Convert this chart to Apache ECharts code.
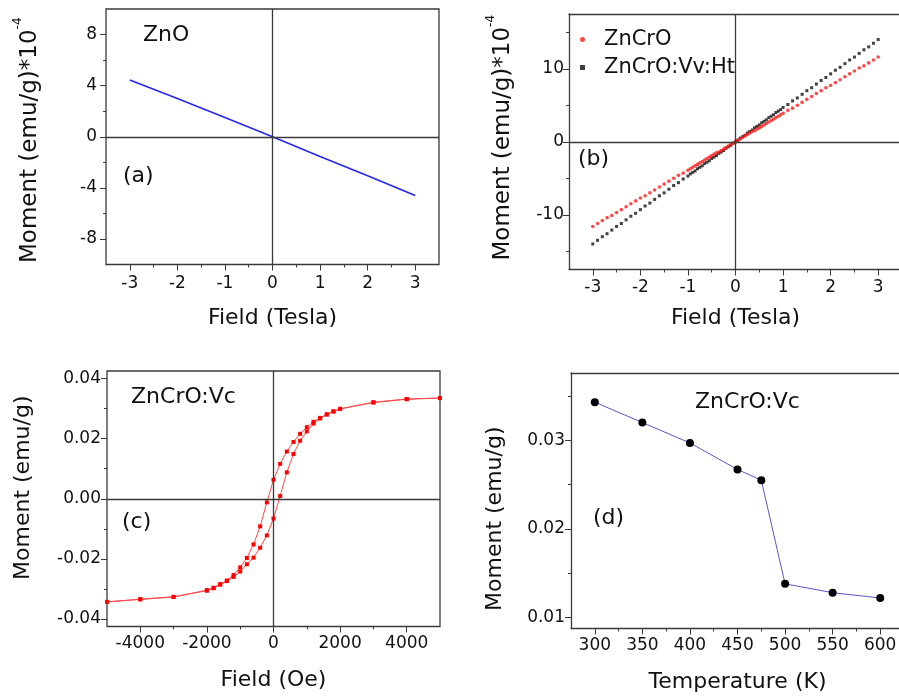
<!DOCTYPE html>
<html>
<head>
<meta charset="utf-8">
<title>ZnO / ZnCrO magnetization</title>
<script src="https://cdn.jsdelivr.net/npm/echarts@6/dist/echarts.min.js"></script>
<style>
    html, body { margin: 0; padding: 0; background: #fff; }
    #chart { width: 899px; height: 697px; }
</style>
</head>
<body>
<div id="chart"></div>
<script>
    // (a) ZnO: moment (1e-4 emu/g) vs field (T)
    var fieldA = [-3, -2, -1, 0, 1, 2, 3];
    var momentZnO = [4.45, 3.0, 1.5, 0, -1.55, -3.05, -4.6];

    // (b) ZnCrO and ZnCrO:Vv:Ht, measured points (1e-4 emu/g)
    var fieldB = [
        -3.0, -2.9, -2.8, -2.7, -2.6, -2.5, -2.4, -2.3, -2.2, -2.1,
        -2.0, -1.9, -1.8, -1.7, -1.6, -1.5, -1.4, -1.3, -1.2, -1.1,
        -1.00, -0.95, -0.90, -0.85, -0.80, -0.75, -0.70, -0.65, -0.60, -0.55,
        -0.50, -0.45, -0.40, -0.35, -0.30, -0.25, -0.20, -0.15, -0.10, -0.05,
        0.00, 0.05, 0.10, 0.15, 0.20, 0.25, 0.30, 0.35, 0.40, 0.45,
        0.50, 0.55, 0.60, 0.65, 0.70, 0.75, 0.80, 0.85, 0.90, 0.95,
        1.0, 1.1, 1.2, 1.3, 1.4, 1.5, 1.6, 1.7, 1.8, 1.9,
        2.0, 2.1, 2.2, 2.3, 2.4, 2.5, 2.6, 2.7, 2.8, 2.9, 3.0
    ];
    var momentZnCrO = [
        -11.6, -11.2, -10.8, -10.4, -10.1, -9.7, -9.3, -8.9, -8.5, -8.1,
        -7.7, -7.4, -7.0, -6.6, -6.2, -5.8, -5.4, -5.0, -4.6, -4.3,
        -3.9, -3.7, -3.5, -3.3, -3.1, -2.9, -2.7, -2.5, -2.3, -2.1,
        -1.9, -1.7, -1.5, -1.4, -1.2, -1.0, -0.8, -0.6, -0.4, -0.2,
        0.0, 0.2, 0.4, 0.6, 0.8, 1.0, 1.2, 1.4, 1.5, 1.7,
        1.9, 2.1, 2.3, 2.5, 2.7, 2.9, 3.1, 3.3, 3.5, 3.7,
        3.9, 4.3, 4.6, 5.0, 5.4, 5.8, 6.2, 6.6, 7.0, 7.4,
        7.7, 8.1, 8.5, 8.9, 9.3, 9.7, 10.1, 10.4, 10.8, 11.2, 11.6
    ];
    var momentVvHt = [
        -14.0, -13.5, -13.0, -12.6, -12.1, -11.6, -11.2, -10.7, -10.2, -9.8,
        -9.3, -8.8, -8.4, -7.9, -7.4, -7.0, -6.5, -6.0, -5.6, -5.1,
        -4.7, -4.4, -4.2, -4.0, -3.7, -3.5, -3.3, -3.0, -2.8, -2.6,
        -2.3, -2.1, -1.9, -1.6, -1.4, -1.2, -0.9, -0.7, -0.5, -0.2,
        0.0, 0.2, 0.5, 0.7, 0.9, 1.2, 1.4, 1.6, 1.9, 2.1,
        2.3, 2.6, 2.8, 3.0, 3.3, 3.5, 3.7, 4.0, 4.2, 4.4,
        4.7, 5.1, 5.6, 6.0, 6.5, 7.0, 7.4, 7.9, 8.4, 8.8,
        9.3, 9.8, 10.2, 10.7, 11.2, 11.6, 12.1, 12.6, 13.0, 13.5, 14.0
    ];

    // (c) ZnCrO:Vc hysteresis loop, field down from +5000 Oe then back up
    var fieldC = [
        5000, 4000, 3000, 2000, 1800, 1600, 1400, 1200, 1000, 800, 600, 400, 200, 0,
        -200, -400, -600, -800, -1000, -1200, -1400, -1600, -1800, -2000, -3000, -4000, -5000,
        -4000, -3000, -2000, -1800, -1600, -1400, -1200, -1000, -800, -600, -400, -200, 0,
        200, 400, 600, 800, 1000, 1200, 1400, 1600, 1800, 2000, 3000, 4000, 5000
    ];
    var momentC = [
        0.0335, 0.0332, 0.0321, 0.0299, 0.0291, 0.0281, 0.0269, 0.0256, 0.0238, 0.0216, 0.0189, 0.0157, 0.0116, 0.0063,
        -0.0012, -0.0092, -0.0152, -0.0197, -0.0228, -0.0254, -0.0272, -0.0284, -0.0296, -0.0304, -0.0327, -0.0335, -0.0343,
        -0.0334, -0.0326, -0.0306, -0.0298, -0.0286, -0.0274, -0.0260, -0.0242, -0.0218, -0.0196, -0.0163, -0.0122, -0.0066,
        0.0009, 0.0088, 0.0149, 0.0193, 0.0224, 0.0250, 0.0267, 0.0280, 0.0290, 0.0299, 0.0320, 0.0331, 0.0335
    ];

    // (d) ZnCrO:Vc moment vs temperature
    var tempD = [300, 350, 400, 450, 475, 500, 550, 600];
    var momentD = [0.0343, 0.0320, 0.0297, 0.0267, 0.0255, 0.0138, 0.0128, 0.0122];

    // tick positions
    var ticksFieldT = [-3, -2, -1, 0, 1, 2, 3];
    var minorFieldT = [-2.5, -1.5, -0.5, 0.5, 1.5, 2.5];
    var ticksA = [-8, -4, 0, 4, 8];
    var minorA = [-6, -2, 2, 6];
    var ticksB = [-10, 0, 10];
    var minorB = [-15, -5, 5, 15];
    var ticksFieldOe = [-4000, -2000, 0, 2000, 4000];
    var minorFieldOe = [-3000, -1000, 1000, 3000];
    var ticksC = [-0.04, -0.02, 0, 0.02, 0.04];
    var minorC = [-0.03, -0.01, 0.01, 0.03];
    var ticksTemp = [300, 350, 400, 450, 500, 550, 600];
    var minorTemp = [325, 375, 425, 475, 525, 575];
    var ticksD = [0.01, 0.02, 0.03];
    var minorD = [0.015, 0.025, 0.035];

    var FONT = 'DejaVu Sans';
    var INK = '#111';
    var FRAME = '#3a3a3a';
    var frameLine = {show: true, onZero: false, lineStyle: {color: FRAME, width: 1.3}};

    function zip(xs, ys) {
        return xs.map(function (x, i) { return [x, ys[i]]; });
    }

    // main axis (labels + long ticks) and an overlaid one for the short ticks
    function axisPair(dim, gridIndex, min, max, majors, minors, o) {
        var main = {
            type: 'value', gridIndex: gridIndex, min: min, max: max,
            position: dim === 'x' ? 'bottom' : 'left',
            axisLine: o.line ? frameLine : {show: false, onZero: false},
            splitLine: {show: false},
            axisTick: {show: true, length: 6, customValues: majors, lineStyle: {color: FRAME, width: 1}},
            axisLabel: {
                customValues: majors, margin: o.margin, color: INK,
                fontFamily: FONT, fontSize: 17, formatter: o.formatter || function (v) { return String(v); }
            },
            name: o.name, nameLocation: 'middle', nameGap: o.nameGap,
            nameRotate: dim === 'y' ? 90 : 0,
            nameTextStyle: o.nameStyle
        };
        var minor = {
            type: 'value', gridIndex: gridIndex, min: min, max: max,
            position: dim === 'x' ? 'bottom' : 'left',
            axisLine: {show: false, onZero: false},
            splitLine: {show: false},
            axisLabel: {show: false},
            axisTick: {show: true, length: 3, customValues: minors, lineStyle: {color: FRAME, width: 1}}
        };
        return [main, minor];
    }

    // top edge of a panel whose right side is cut off by the picture
    function topEdge(gridIndex, min, max) {
        return {
            type: 'value', gridIndex: gridIndex, min: min, max: max, position: 'top',
            axisLine: frameLine, axisTick: {show: false}, axisLabel: {show: false}, splitLine: {show: false}
        };
    }

    var titleStyle = {fontFamily: FONT, fontSize: 22, color: INK};
    var supTitle = function (pad) {
        return {
            fontFamily: FONT, color: INK, padding: pad,
            rich: {
                m: {fontFamily: FONT, fontSize: 23, color: INK, lineHeight: 36},
                s: {fontFamily: FONT, fontSize: 12, color: INK, lineHeight: 12, verticalAlign: 'top'}
            }
        };
    };
    var plainYTitle = function (pad) {
        return {fontFamily: FONT, fontSize: 22, color: INK, lineHeight: 24, padding: pad};
    };
    var fmt2 = function (v) { return v.toFixed(2); };

    var xAxes = [].concat(
        axisPair('x', 0, -3.5, 3.5, ticksFieldT, minorFieldT, {margin: 11, name: 'Field (Tesla)', nameGap: 43, nameStyle: titleStyle}),
        axisPair('x', 1, -3.5, 3.5, ticksFieldT, minorFieldT, {margin: 10, line: true, name: 'Field (Tesla)', nameGap: 38, nameStyle: titleStyle}),
        axisPair('x', 2, -5000, 5000, ticksFieldOe, minorFieldOe, {margin: 9, name: 'Field (Oe)', nameGap: 43, nameStyle: titleStyle}),
        axisPair('x', 3, 275, 625, ticksTemp, minorTemp, {margin: 9, line: true, name: 'Temperature (K)', nameGap: 43, nameStyle: titleStyle}),
        [topEdge(1, -3.5, 3.5), topEdge(3, 275, 625)]
    );
    var yAxes = [].concat(
        axisPair('y', 0, -10, 10, ticksA, minorA, {margin: 9, name: '{m|Moment (emu/g)*10}{s|-4}', nameGap: 58, nameStyle: supTitle([0, 7, 0, 0])}),
        axisPair('y', 1, -17.5, 17.5, ticksB, minorB, {margin: 5, line: true, name: '{m|Moment (emu/g)*10}{s|-4}', nameGap: 48, nameStyle: supTitle([0, 0, 0, 8])}),
        axisPair('y', 2, -0.0425, 0.0425, ticksC, minorC, {margin: 6, formatter: fmt2, name: 'Moment (emu/g)', nameGap: 72, nameStyle: plainYTitle([0, 0, 0, 22])}),
        axisPair('y', 3, 0.00876, 0.03759, ticksD, minorD, {margin: 6, line: true, formatter: fmt2, name: 'Moment (emu/g)', nameGap: 64, nameStyle: plainYTitle([0, 36, 0, 0])})
    );

    var zeroLines = {
        silent: true,
        symbol: ['none', 'none'],
        label: {show: false},
        lineStyle: {color: FRAME, width: 1.3, type: 'solid'},
        data: [{xAxis: 0}, {yAxis: 0}]
    };

    // panels (b) and (d) run past the right edge of the picture, as in the source figure
    function panelGrid(left, top, boxed) {
        return {
            left: left, top: top, width: 333, height: 255.5,
            outerBoundsMode: 'none', containLabel: false,
            show: boxed, borderColor: FRAME, borderWidth: 1.3, backgroundColor: 'transparent'
        };
    }

    function label(text, x, y) {
        return {
            type: 'text', x: x, y: y, silent: true,
            style: {text: text, fill: INK, fontFamily: FONT, fontSize: 22, align: 'left', verticalAlign: 'middle'}
        };
    }

    var chart = echarts.init(document.getElementById('chart'));
    chart.setOption({
        animation: false,
        backgroundColor: '#fff',
        grid: [
            panelGrid(106, 9, true),
            panelGrid(569, 14, false),
            panelGrid(107, 371, true),
            panelGrid(571, 373, false)
        ],
        xAxis: xAxes,
        yAxis: yAxes,
        legend: {
            orient: 'vertical', left: 575, top: 22,
            itemWidth: 5, itemHeight: 5, itemGap: 3,
            data: [{name: 'ZnCrO', icon: 'circle'}, {name: 'ZnCrO:Vv:Ht', icon: 'rect'}],
            textStyle: {fontFamily: FONT, fontSize: 21, color: INK, lineHeight: 25, padding: [0, 0, 0, 14]}
        },
        graphic: [
            label('ZnO', 143, 35),
            label('(a)', 123, 176),
            label('(b)', 578, 159),
            label('ZnCrO:Vc', 131, 397),
            label('(c)', 122, 522),
            label('ZnCrO:Vc', 695, 402),
            label('(d)', 593, 518)
        ],
        series: [
            {
                name: 'ZnO', type: 'line', xAxisIndex: 0, yAxisIndex: 0,
                data: zip(fieldA, momentZnO), showSymbol: false,
                lineStyle: {color: '#2626f2', width: 1.6},
                markLine: zeroLines
            },
            {
                name: 'ZnCrO:Vv:Ht', type: 'scatter', xAxisIndex: 2, yAxisIndex: 2,
                data: zip(fieldB, momentVvHt), symbol: 'rect', symbolSize: 3,
                itemStyle: {color: '#111'},
                markLine: zeroLines
            },
            {
                name: 'ZnCrO', type: 'scatter', xAxisIndex: 2, yAxisIndex: 2,
                data: zip(fieldB, momentZnCrO), symbol: 'circle', symbolSize: 3.6,
                itemStyle: {color: '#ff1a1a'}
            },
            {
                name: 'ZnCrO:Vc loop', type: 'line', xAxisIndex: 4, yAxisIndex: 4,
                data: zip(fieldC, momentC), symbol: 'rect', symbolSize: 4,
                itemStyle: {color: '#ff0000'},
                lineStyle: {color: '#ff4a4a', width: 1},
                markLine: zeroLines
            },
            {
                name: 'ZnCrO:Vc M(T)', type: 'line', xAxisIndex: 6, yAxisIndex: 6,
                data: zip(tempD, momentD), symbol: 'circle', symbolSize: 8,
                itemStyle: {color: '#000'},
                lineStyle: {color: '#5858c8', width: 1}
            }
        ]
    });
</script>
</body>
</html>
